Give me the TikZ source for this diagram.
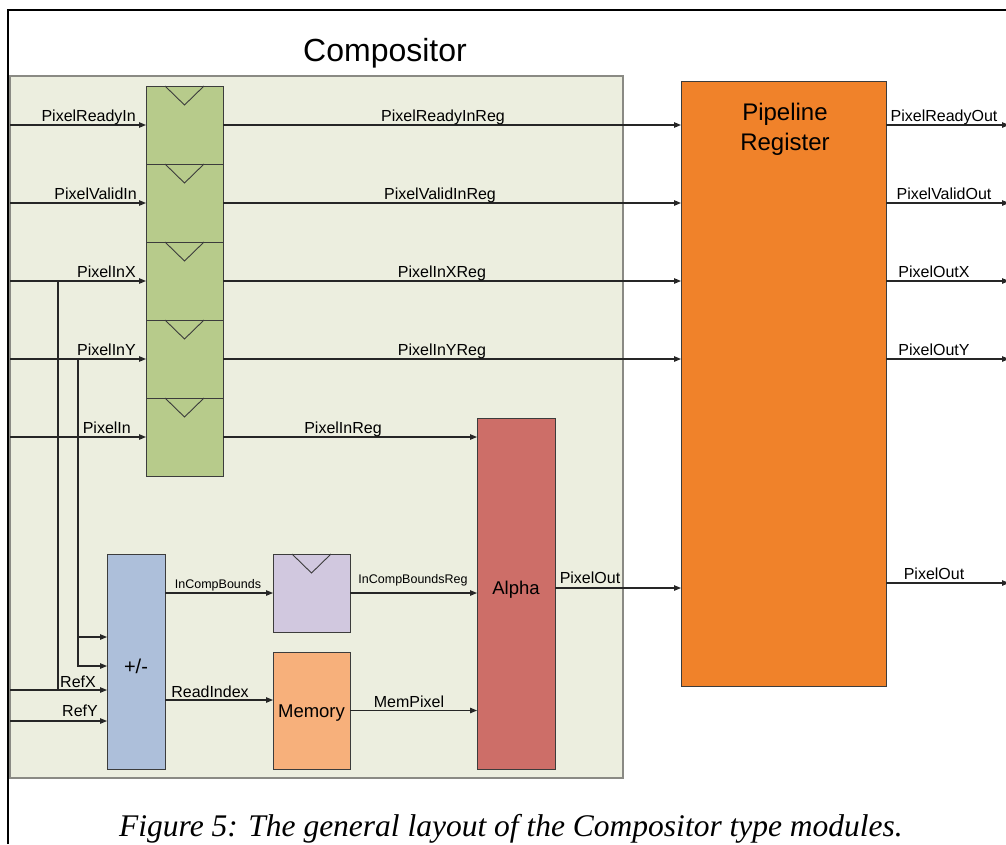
\documentclass[tikz,border=0pt]{standalone}
\usepackage{fontspec}
\setmainfont{Liberation Sans}
\newfontfamily\captionserif{Liberation Serif}
\usetikzlibrary{arrows.meta,calc}

\definecolor{compbg}{HTML}{ECEEDF}
\definecolor{compedge}{HTML}{8A8A84}
\definecolor{regfill}{HTML}{B7CB8B}
\definecolor{blockedge}{HTML}{3C3C3C}
\definecolor{pmfill}{HTML}{ADBFDA}
\definecolor{bndfill}{HTML}{D1C8DF}
\definecolor{memfill}{HTML}{F7B07B}
\definecolor{alphafill}{HTML}{CD6E68}
\definecolor{pipefill}{HTML}{F0822A}
\definecolor{wirec}{HTML}{262626}

\tikzset{
  wire/.style={draw=wirec, line width=1.1pt},
  arr/.style={wire, -{Triangle[length=7pt,width=5.5pt]}},
  blk/.style={draw=blockedge, line width=1pt, inner sep=0pt, outer sep=0pt},
  regcell/.style={blk, fill=regfill, minimum width=77pt, minimum height=78pt},
  clock/.style={draw=blockedge, line width=0.9pt},
  sig/.style={font=\fontsize{16}{18}\selectfont, inner sep=0pt, anchor=base},
  sigsmall/.style={font=\fontsize{12.5}{14}\selectfont, inner sep=0pt, anchor=base},
  blocktext/.style={font=\fontsize{18.5}{22}\selectfont, inner sep=0pt, anchor=base},
}

\begin{document}
\begin{tikzpicture}[x=1pt,y=-1pt]
\useasboundingbox (0,0) rectangle (1006,844);

% page frame
\draw[line width=1.3pt] (8,844) -- (8,10) -- (1006,10);

% compositor module
\node[draw=compedge, fill=compbg, line width=1.3pt, inner sep=0pt,
      minimum width=613pt, minimum height=702pt] (comp) at (316.5,427) {};
\node[font=\fontsize{32}{36}\selectfont, inner sep=0pt, anchor=base] (title) at (385,61.5) {Compositor};

% input register stack
\node[regcell] (r1) at (184.5,125) {};
\node[regcell] (r2) at (184.5,203) {};
\node[regcell] (r3) at (184.5,281) {};
\node[regcell] (r4) at (184.5,359) {};
\node[regcell] (r5) at (184.5,437) {};

% blocks
\node[blk, fill=pmfill, minimum width=58pt, minimum height=215pt] (pm) at (136,661.5) {};
\node[font=\fontsize{20}{24}\selectfont, inner sep=0pt, anchor=base] (pmtxt) at (136,673) {+/-};
\node[blk, fill=bndfill, minimum width=77pt, minimum height=78pt] (icb) at (311.5,593) {};
\node[blk, fill=memfill, minimum width=77pt, minimum height=117pt] (mem) at (311.5,710.5) {};
\node[blocktext] (memtxt) at (311.5,717.5) {Memory};
\node[blk, fill=alphafill, minimum width=78pt, minimum height=351pt] (alpha) at (516,593.5) {};
\node[blocktext] (alphatxt) at (516,594.5) {Alpha};
\node[blk, fill=pipefill, minimum width=205pt, minimum height=605pt] (pipe) at (783.5,383.5) {};
\node[font=\fontsize{24}{30}\selectfont, align=center, inner sep=0pt, anchor=north]
      (pipetxt) at (785,102.5) {Pipeline\\Register};

% clock marks
\foreach \c in {r1,r2,r3,r4,r5,icb}
  \draw[clock] ($(\c.north)+(-19.5,0)$) -- ($(\c.north)+(0,19)$) -- ($(\c.north)+(19.5,0)$);

% helper coordinates
\coordinate (inL) at (10,0);
\coordinate (outR) at (1009,0);
\coordinate (tapX) at (58,0);
\coordinate (tapY) at (78,0);
\coordinate (yA) at (0,637);
\coordinate (yB) at (0,666);
\coordinate (yC) at (0,690);
\coordinate (yD) at (0,721);
\coordinate (yR) at (0,700);
\coordinate (yP) at (0,588);
\coordinate (yQ) at (0,583);

% inputs into the register stack
\foreach \c in {r1,r2,r3,r4,r5}
  \draw[arr] (inL |- \c.west) -- (\c.west);

% registered signals into the pipeline register
\foreach \c in {r1,r2,r3,r4}
  \draw[arr] (\c.east) -- (\c.east -| pipe.west);
\draw[arr] (r5.east) -- (r5.east -| alpha.west);

% position taps and reference inputs of the adder
\draw[wire] (tapX |- r3.west) -- (tapX |- yC);
\draw[arr] (tapY |- r4.west) -- (tapY |- yB) -- (pm.west |- yB);
\draw[arr] (tapY |- yA) -- (pm.west |- yA);
\draw[arr] (inL |- yC) -- (pm.west |- yC);
\draw[arr] (inL |- yD) -- (pm.west |- yD);

% adder outputs
\draw[arr] (pm.east |- icb.west) -- (icb.west);
\draw[arr] (pm.east |- yR) -- (mem.west |- yR);

% into alpha
\draw[arr] (icb.east) -- (icb.east -| alpha.west);
\draw[arr] (mem.east) -- (mem.east -| alpha.west);

% alpha output
\draw[arr] (alpha.east |- yP) -- (pipe.west |- yP);

% pipeline register outputs
\foreach \c in {r1,r2,r3,r4}
  \draw[arr] (pipe.east |- \c.east) -- (outR |- \c.east);
\draw[arr] (pipe.east |- yQ) -- (outR |- yQ);

% signal labels
\node[sig, anchor=base east] (lRdyIn) at (136,121) {PixelReadyIn};
\node[sig, anchor=base east] (lVldIn) at (137,199) {PixelValidIn};
\node[sig, anchor=base east] (lInX) at (136,277) {PixelInX};
\node[sig, anchor=base east] (lInY) at (136,355) {PixelInY};
\node[sig, anchor=base east] (lIn) at (131,433) {PixelIn};

\node[sig] (lRdyReg) at (443,121) {PixelReadyInReg};
\node[sig] (lVldReg) at (440,199) {PixelValidInReg};
\node[sig] (lXReg) at (442,277) {PixelInXReg};
\node[sig] (lYReg) at (442,355) {PixelInYReg};
\node[sig] (lInReg) at (343,433) {PixelInReg};

\node[sigsmall] (lBnd) at (218,588) {InCompBounds};
\node[sigsmall] (lBndReg) at (413,583) {InCompBoundsReg};
\node[sig] (lIdx) at (210,697) {ReadIndex};
\node[sig] (lMem) at (409,707) {MemPixel};
\node[sig] (lRefX) at (78,687) {RefX};
\node[sig] (lRefY) at (80,716) {RefY};
\node[sig] (lOutA) at (590,583) {PixelOut};

\node[sig] (lRdyOut) at (944,121) {PixelReadyOut};
\node[sig] (lVldOut) at (944,199) {PixelValidOut};
\node[sig] (lOutX) at (934,277) {PixelOutX};
\node[sig] (lOutY) at (934,355) {PixelOutY};
\node[sig] (lOutP) at (934,579) {PixelOut};

% caption
\node[font=\captionserif\itshape\fontsize{31.5}{36}\selectfont, inner sep=0pt, anchor=base]
  (caption) at (511,836) {Figure 5: The general layout of the Compositor type modules.};
\end{tikzpicture}
\end{document}
